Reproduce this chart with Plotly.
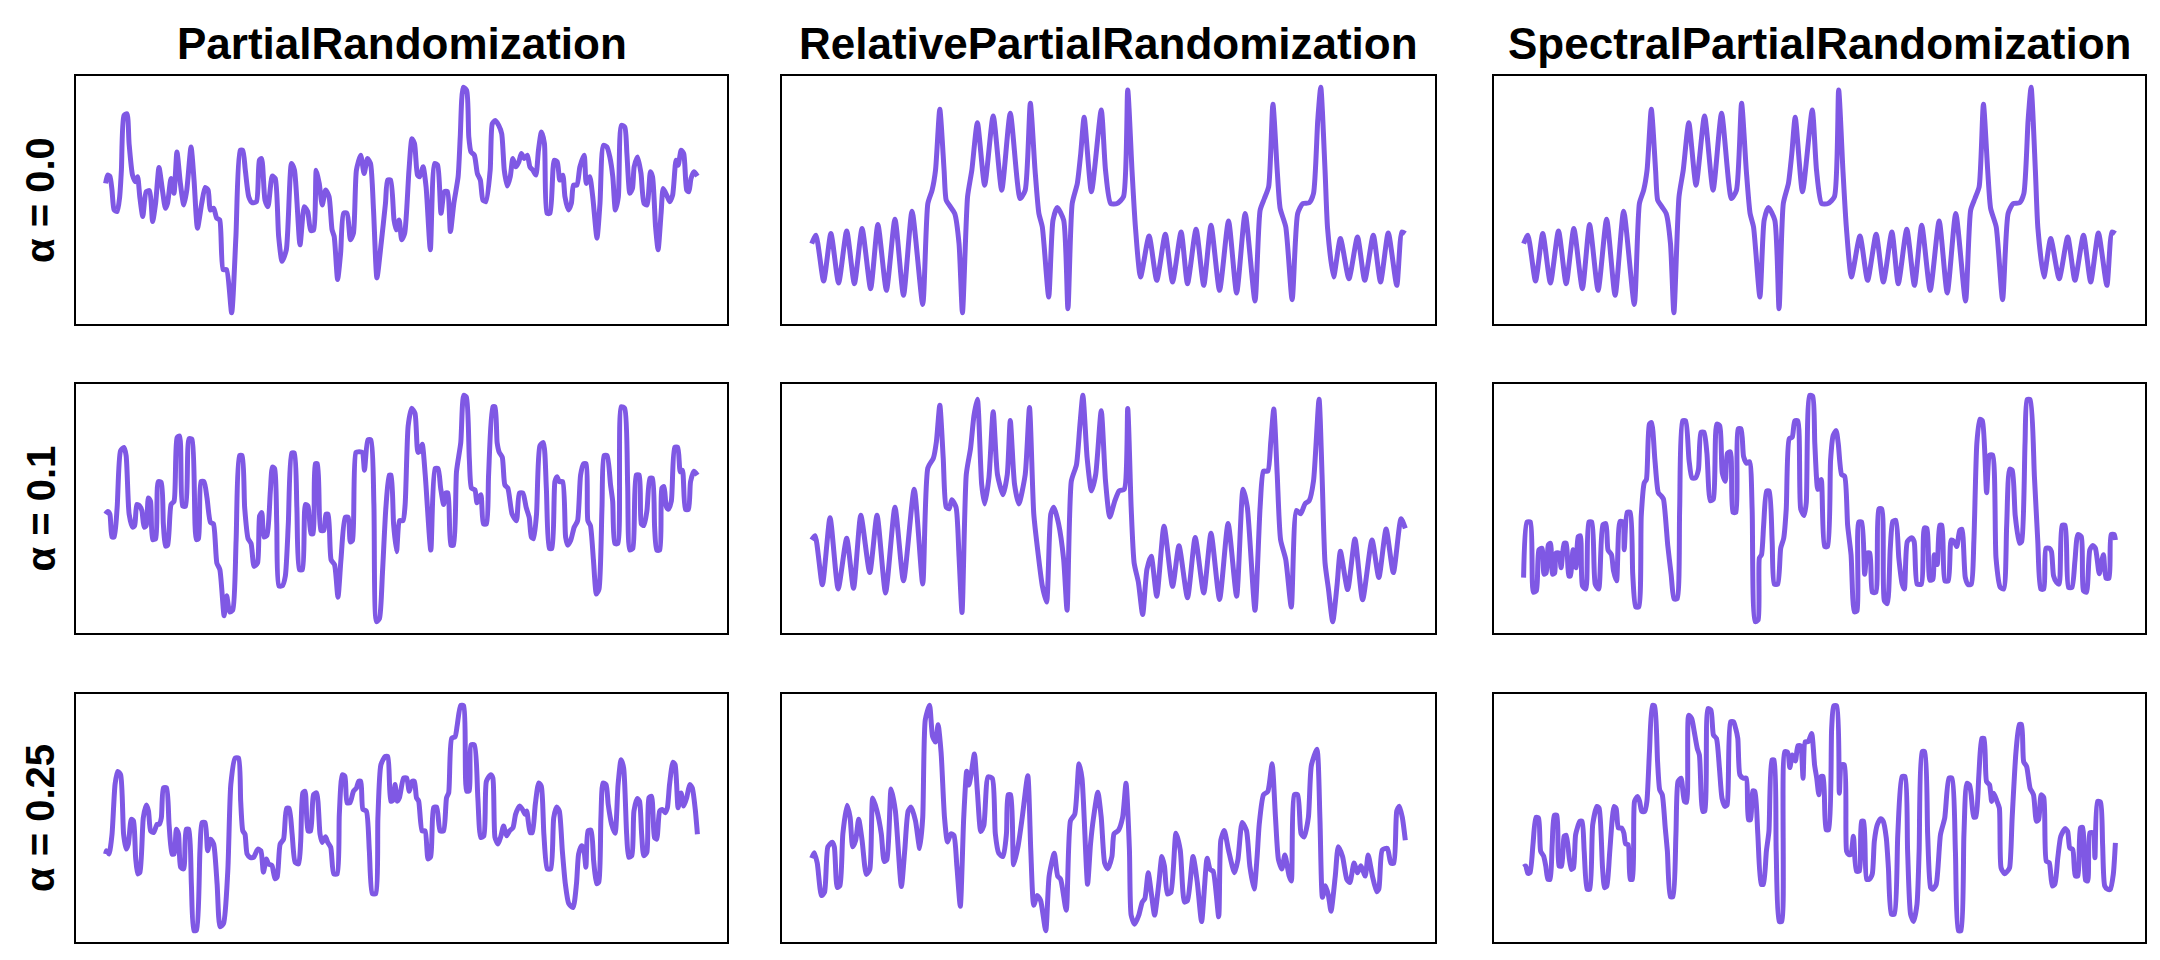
import plotly.graph_objects as go

# ---------------- data (time, value) ----------------
col_titles = ["PartialRandomization", "RelativePartialRandomization", "SpectralPartialRandomization"]
row_labels = ["α = 0.0", "α = 0.1", "α = 0.25"]

original = [(90,280),(100,305),(118,168),(135,310),(153,162),(172,318),(190,160),(208,325),(228,145),(245,337),
 (265,140),(285,353),(305,125),(325,377),(350,98),(362,400),(372,440),(380,500),(390,682),(400,500),(405,410),
 (415,390),(425,370),(435,280),(443,73),(455,420),(465,500),(478,642),(495,455),(515,662),(535,440),(555,670),
 (578,415),(590,440),(602,700),(613,500),(622,370),(630,330),(645,120),(655,350),(665,388),(680,350),(690,85),
 (700,400),(712,460),(720,550),(728,658),(745,435),(768,680),(778,500),(790,400),(805,400),(820,420),(830,740),
 (840,500),(848,330),(860,180),(880,303),(898,170),(918,308),(935,165),(955,315),(970,160),(990,323),(1008,155),
 (1025,335),(1045,140),(1066,348),(1085,132),(1105,370),(1128,108),(1140,380),(1150,415),(1160,450),(1170,697),
 (1180,500),(1187,385),(1200,330),(1215,112),(1228,370),(1240,400),(1255,402),(1265,430),(1275,650),(1282,748),
 (1292,500),(1298,325),(1312,180),(1328,295),(1348,175),(1368,300),(1385,170),(1405,305),(1422,165),(1440,312),
 (1460,155),(1472,315),(1480,310)]

partial_00 = [(85,460),(90,485),(95,482),(100,440),(105,380),(112,375),(118,420),(122,500),(128,665),(135,670),
 (140,580),(148,485),(155,465),(160,480),(165,420),(172,360),(180,435),(188,438),(195,345),(202,400),(210,508),
 (218,440),(225,385),(230,400),(238,475),(245,430),(252,555),(260,460),(268,395),(275,440),(285,570),(292,470),
 (300,325),(310,400),(318,448),(325,440),(330,380),(338,385),(345,355),(352,350),(360,200),(368,200),(380,70),
 (390,300),(400,560),(406,560),(412,500),(420,420),(428,402),(438,405),(445,530),(450,535),(458,410),(465,390),
 (475,482),(482,475),(490,300),(498,225),(508,260),(520,520),(527,500),(540,275),(550,390),(558,375),(565,318),
 (572,320),(578,500),(585,460),(592,395),(600,440),(608,420),(615,320),(620,300),(628,170),(635,250),(642,370),
 (650,370),(658,290),(665,310),(672,500),(682,545),(690,490),(698,535),(705,520),(712,380),(720,175),(730,280),
 (740,400),(745,470),(752,470),(760,350),(765,320),(772,350),(778,290),(785,310),(795,500),(802,595),(808,580),
 (815,485),(820,480),(828,510),(835,450),(845,260),(855,520),(862,515),(870,370),(878,435),(885,435),(892,315),
 (900,400),(910,480),(915,600),(922,750),(930,740),(935,600),(940,555),(948,545),(955,490),(962,470),(968,410),
 (975,405),(985,500),(990,640),(997,650),(1005,635),(1012,610),(1018,500),(1025,452),(1032,480),(1038,535),
 (1045,510),(1052,525),(1058,550),(1065,535),(1072,545),(1078,510),(1085,500),(1092,485),(1098,560),(1105,615),
 (1112,580),(1118,370),(1125,370),(1135,530),(1142,525),(1148,470),(1155,485),(1160,420),(1168,380),(1175,400),
 (1180,455),(1188,455),(1195,510),(1205,545),(1210,460),(1218,480),(1225,420),(1235,295),(1242,400),(1250,575),
 (1258,570),(1265,540),(1272,480),(1278,380),(1285,420),(1292,635),(1300,630),(1305,550),(1312,430),(1318,445),
 (1322,510),(1330,540),(1338,490),(1345,400),(1352,395),(1360,495),(1365,480),(1372,330),(1378,260),(1385,370),
 (1390,445),(1398,425),(1405,405),(1412,425),(1420,530),(1425,515),(1432,560),(1438,550),(1445,440),(1450,435),
 (1455,475),(1462,495),(1470,482)]

partial_01 = [(85,380),(90,388),(95,380),(100,310),(105,310),(112,400),(120,575),(128,585),(133,560),(140,380),
 (148,340),(153,345),(158,410),(165,405),(170,390),(175,340),(180,345),(185,430),(190,420),(195,302),(202,305),
 (208,480),(215,478),(220,350),(225,282),(230,285),(238,410),(245,420),(252,615),(258,620),(265,405),(272,405),
 (280,612),(287,610),(297,302),(302,305),(308,480),(315,480),(322,430),(330,355),(337,350),(345,230),(352,210),
 (362,68),(368,130),(375,80),(382,85),(390,300),(398,560),(404,560),(410,400),(418,305),(425,290),(432,220),
 (440,230),(445,375),(450,385),(455,310),(462,315),(470,450),(475,525),(480,520),(485,350),(490,160),(498,160),
 (505,190),(512,350),(520,568),(526,568),(532,400),(538,210),(545,210),(552,410),(558,405),(565,320),(570,320),
 (575,535),(580,535),(588,330),(595,330),(600,380),(605,380),(612,240),(620,225),(628,125),(635,240),(645,370),
 (652,370),(657,295),(662,300),(670,570),(678,572),(685,570),(690,515),(698,608),(705,608),(712,410),(718,50),
 (725,60),(732,200),(740,400),(748,500),(752,500),(758,350),(765,265),(772,360),(780,360),(785,410),(792,650),
 (800,705),(808,690),(815,570),(820,575),(825,595),(832,500),(845,270),(855,520),(862,520),(868,460),(875,410),
 (880,445),(885,445),(892,285),(898,285),(905,510),(915,600),(922,745),(928,740),(935,550),(940,460),(948,455),
 (953,415),(962,440),(968,350),(975,350),(980,500),(990,710),(995,710),(1000,600),(1005,570),(1012,555),
 (1018,470),(1025,460),(1035,380),(1045,360),(1052,445),(1060,445),(1068,400),(1075,370),(1080,310),(1085,305),
 (1092,380),(1100,590),(1108,600),(1115,460),(1122,275),(1128,275),(1135,480),(1140,495),(1145,480),(1153,480),
 (1160,310),(1165,285),(1172,300),(1180,340),(1188,360),(1195,500),(1202,535),(1208,535),(1212,360),(1218,345),
 (1225,240),(1232,135),(1238,150),(1245,400),(1250,560),(1257,560),(1265,470),(1270,420),(1275,290),(1282,290),
 (1290,710),(1298,705),(1305,470),(1310,270),(1317,275),(1325,500),(1332,500),(1337,350),(1343,345),(1350,390),
 (1357,490),(1363,490),(1368,340),(1373,270),(1380,270),(1385,460),(1390,465),(1395,405),(1400,395),(1407,420),
 (1415,585),(1422,585),(1428,510),(1433,515),(1440,395),(1447,395),(1452,480),(1460,512),(1468,500)]

partial_025 = [(90,290),(92,300),(98,290),(105,350),(112,500),(118,540),(125,530),(132,350),(138,305),(143,320),
 (150,395),(155,390),(160,280),(165,230),(170,235),(178,400),(185,438),(190,420),(195,360),(202,355),(210,380),
 (215,380),(220,400),(225,490),(232,490),(238,380),(245,290),(250,290),(255,365),(260,350),(265,250),(272,245),
 (278,365),(284,365),(290,200),(296,58),(302,60),(310,300),(315,385),(322,385),(328,300),(335,335),(342,320),
 (350,200),(357,70),(365,80),(375,240),(382,500),(392,580),(400,580),(405,450),(410,360),(415,350),(420,290),
 (427,280),(435,280),(445,305),(452,300),(458,235),(465,275),(470,260),(478,255),(485,215),(490,220),(497,320),
 (505,335),(512,428),(518,428),(525,350),(532,265),(540,260),(545,330),(550,475),(555,480),(562,360),(568,360),
 (575,470),(582,475),(590,350),(595,325),(603,342),(608,325),(615,310),(622,230),(630,230),(635,410),(642,530),
 (648,525),(653,445),(660,445),(668,480),(675,490),(680,510),(685,510),(690,425),(698,420),(705,300),(712,170),
 (720,170),(725,400),(732,560),(742,585),(748,585),(755,450),(760,452),(765,500),(770,450),(775,460),(785,520),
 (792,520),(798,480),(805,510),(810,510),(815,460),(820,450),(828,360),(835,360),(842,275),(848,282),(855,430),
 (862,432),(870,360),(878,360),(885,460),(890,475),(897,640),(905,645),(910,680),(918,740),(925,738),(932,480),
 (938,482),(942,620),(950,620),(958,460),(965,340),(972,345),(978,510),(988,530),(993,520),(998,340),(1005,320),
 (1012,345),(1018,375),(1025,345),(1032,360),(1040,370),(1046,410),(1055,435),(1062,425),(1068,410),(1072,420),
 (1080,355),(1085,355),(1092,440),(1100,505),(1106,495),(1112,350),(1120,245),(1128,245),(1135,400),(1142,432),
 (1148,420),(1155,300),(1162,200),(1170,140),(1180,128),(1188,200),(1193,290),(1200,315),(1205,305),(1210,250),
 (1215,360),(1222,362),(1228,270),(1235,200),(1240,205),(1245,400),(1250,505),(1257,500),(1262,440),(1270,380),
 (1278,353),(1285,500),(1292,575),(1298,550),(1305,350),(1310,280),(1317,285),(1322,420),(1330,458),(1335,450),
 (1340,350),(1345,285),(1352,295),(1357,460),(1363,465),(1370,340),(1375,335),(1382,420),(1388,425),(1395,415),
 (1400,430),(1405,500),(1413,568),(1418,560),(1425,430),(1432,475),(1438,435),(1445,460),(1452,500),(1458,490),
 (1465,425),(1470,350)]

relative_01 = [(90,300),(98,313),(115,163),(133,368),(152,150),(172,305),(188,152),(205,375),(226,200),(243,375),
 (263,138),(285,400),(305,175),(330,455),(350,165),(362,520),(375,550),(382,600),(390,712),(398,550),(405,400),
 (412,395),(418,423),(428,400),(435,250),(442,78),(452,500),(462,580),(470,680),(478,730),(488,470),(495,410),
 (505,490),(515,692),(525,500),(538,438),(548,500),(555,665),(565,470),(575,410),(590,500),(600,705),(610,380),
 (620,260),(630,160),(640,110),(650,380),(657,400),(668,350),(680,240),(688,85),(698,480),(710,530),(718,650),
 (725,742),(735,550),(745,450),(755,500),(768,695),(778,480),(788,370),(800,420),(810,450),(822,455),(830,702),
 (838,400),(845,230),(855,170),(865,72),(875,210),(885,250),(898,128),(915,342),(935,158),(950,282),(970,123),
 (988,307),(1008,138),(1025,320),(1045,118),(1065,350),(1085,128),(1100,455),(1110,400),(1128,85),(1140,400),
 (1148,510),(1158,510),(1165,600),(1172,700),(1180,500),(1188,300),(1200,240),(1213,95),(1225,390),(1235,380),
 (1245,410),(1255,420),(1265,480),(1278,730),(1285,500),(1292,230),(1300,150),(1310,50),(1320,160),(1328,265),
 (1345,148),(1362,303),(1380,117),(1402,300),(1418,185),(1435,333),(1452,200),(1470,365),(1480,335)]

relative_025 = [(92,275),(98,292),(105,260),(115,160),(122,170),(130,310),(140,324),(145,310),(152,185),(158,190),
 (165,350),(175,438),(182,400),(188,310),(195,330),(202,395),(210,330),(220,225),(228,240),(235,460),(245,420),
 (255,350),(262,265),(268,270),(278,488),(288,420),(302,188),(310,300),(318,420),(325,432),(335,390),(345,305),
 (352,400),(358,700),(368,745),(375,650),(382,632),(388,685),(395,600),(403,400),(410,325),(418,350),(425,345),
 (432,250),(440,127),(448,400),(455,542),(460,500),(465,530),(473,595),(480,480),(488,357),(495,375),(505,525),
 (515,520),(522,350),(530,290),(540,280),(548,350),(552,470),(558,470),(565,255),(575,310),(585,400),(598,528),
 (605,300),(612,130),(620,160),(628,145),(640,52),(648,220),(660,290),(668,220),(675,210),(688,115),(698,390),
 (708,410),(718,565),(725,520),(738,195),(745,320),(752,400),(762,478),(770,400),(778,260),(785,242),(795,280),
 (800,350),(810,360),(820,400),(828,505),(836,300),(840,100),(848,72),(858,100),(866,140),(872,150),(880,230),
 (888,160),(895,100),(905,200),(912,280),(918,250),(925,165),(933,170),(945,352),(955,300),(965,140),(972,145),
 (985,280),(995,200),(1005,80),(1018,275),(1025,240),(1032,235),(1045,95),(1050,330),(1058,360),(1068,300),
 (1082,230),(1090,270),(1100,385),(1110,360),(1118,250),(1128,180),(1135,280),(1140,380),(1150,470),(1160,480),
 (1170,565),(1178,400),(1185,270),(1193,242),(1200,285),(1210,220),(1215,205),(1222,470),(1230,470),(1238,350),
 (1245,340),(1255,400),(1262,560),(1275,610),(1282,400),(1288,155),(1295,190),(1302,160),(1308,112),(1318,220),
 (1325,310),(1335,280),(1345,210),(1352,200),(1362,260),(1370,230),(1378,252),(1388,220),(1395,285),(1405,220),
 (1415,172),(1420,180),(1428,300),(1440,305),(1448,260),(1455,260),(1462,420),(1468,435),(1475,400),(1482,330)]

spectral_01 = [(102,190),(110,360),(118,360),(125,145),(132,150),(138,275),(145,280),(150,200),(155,205),(160,290),
 (165,295),(170,200),(175,205),(178,265),(185,265),(190,220),(197,295),(202,295),(208,195),(212,195),(218,275),
 (225,220),(230,315),(235,318),(240,165),(248,155),(255,360),(262,360),(270,170),(278,155),(288,352),(295,355),
 (300,275),(308,260),(313,210),(320,180),(328,362),(335,360),(338,275),(345,390),(352,390),(358,200),(365,100),
 (372,100),(378,380),(385,480),(390,490),(397,660),(402,665),(410,550),(418,450),(425,440),(430,430),(440,290),
 (448,200),(455,125),(462,125),(468,400),(475,670),(482,670),(490,550),(497,495),(505,495),(512,520),(518,635),
 (525,635),(532,570),(540,425),(547,430),(555,660),(562,655),(568,510),(575,485),(580,570),(587,575),(593,390),
 (600,390),(605,645),(612,645),(618,560),(625,540),(632,545),(638,400),(645,55),(652,60),(655,250),(660,260),
 (665,350),(672,455),(678,455),(685,300),(690,170),(698,170),(705,280),(712,310),(718,400),(725,615),(732,620),
 (738,670),(745,670),(752,400),(760,380),(765,420),(773,748),(780,745),(785,600),(792,460),(800,490),(808,285),
 (815,285),(822,550),(828,625),(835,640),(840,600),(848,505),(855,500),(862,350),(870,260),(878,85),(884,88),
 (888,360),(895,360),(902,200),(908,265),(914,265),(920,145),(928,145),(935,400),(942,400),(948,120),(955,110),
 (962,280),(968,362),(975,365),(982,250),(990,170),(995,155),(1002,300),(1012,312),(1018,300),(1025,170),
 (1035,170),(1042,342),(1048,340),(1055,182),(1062,185),(1065,260),(1072,230),(1078,350),(1083,350),(1090,180),
 (1098,180),(1105,305),(1112,300),(1118,285),(1125,335),(1130,338),(1138,190),(1145,168),(1152,170),(1158,300),
 (1165,600),(1172,675),(1178,670),(1188,450),(1195,565),(1202,565),(1210,250),(1220,160),(1228,155),(1235,350),
 (1242,522),(1248,518),(1255,380),(1265,295),(1270,300),(1278,600),(1283,735),(1290,735),(1300,500),(1308,300),
 (1315,155),(1322,155),(1327,280),(1335,280),(1340,270),(1345,195),(1352,175),(1358,170),(1365,350),(1372,350),
 (1380,160),(1388,160),(1395,240),(1402,322),(1410,315),(1415,150),(1422,145),(1430,275),(1437,288),(1443,280),
 (1452,202),(1457,235),(1462,260),(1468,188),(1475,188),(1480,322),(1487,322),(1490,305)]

spectral_025 = [(103,252),(108,255),(113,233),(118,235),(125,320),(132,402),(138,400),(143,300),(150,285),(155,255),
 (160,215),(165,215),(170,320),(175,408),(181,408),(186,255),(192,255),(198,345),(203,348),(210,280),(215,245),
 (220,250),(225,350),(235,390),(240,390),(245,300),(252,185),(258,185),(265,380),(275,435),(280,430),(288,250),
 (293,190),(298,195),(305,300),(315,435),(320,428),(325,370),(332,370),(338,355),(342,322),(348,320),(353,215),
 (358,215),(363,450),(370,465),(375,450),(380,420),(387,420),(392,450),(398,600),(405,740),(410,738),(417,570),
 (422,485),(428,470),(435,370),(440,300),(447,163),(453,163),(460,350),(465,510),(472,520),(480,450),(485,448),
 (490,710),(497,700),(503,660),(510,610),(515,590),(523,420),(528,422),(535,730),(542,725),(548,650),(555,640),
 (562,550),(568,460),(575,435),(580,440),(588,690),(595,690),(600,670),(605,640),(610,530),(618,520),(625,520),
 (630,395),(635,395),(640,482),(645,480),(652,350),(660,200),(665,200),(672,300),(678,360),(685,575),(690,575),
 (695,300),(702,88),(708,88),(715,600),(722,598),(727,552),(733,590),(740,572),(746,618),(752,618),(758,520),
 (763,630),(770,630),(778,655),(785,560),(790,520),(795,470),(800,525),(805,525),(812,365),(818,365),(825,670),
 (830,738),(837,738),(843,475),(848,560),(855,560),(860,300),(865,290),(870,290),(876,345),(883,240),(890,240),
 (895,390),(900,390),(907,215),(913,215),(920,230),(925,330),(932,380),(940,398),(946,390),(953,340),(958,250),
 (965,110),(972,110),(980,350),(990,525),(997,525),(1003,300),(1010,110),(1017,88),(1025,140),(1030,300),
 (1037,600),(1043,600),(1050,350),(1057,190),(1062,185),(1070,200),(1080,350),(1090,400),(1100,520),(1107,520),
 (1115,300),(1122,60),(1128,60),(1135,350),(1142,505),(1148,500),(1152,470),(1158,403),(1163,403),(1170,530),
 (1177,640),(1182,640),(1188,510),(1195,500),(1200,450),(1205,475),(1212,452),(1218,430),(1222,250),(1230,232),
 (1237,240),(1242,250),(1248,400),(1257,600),(1265,682),(1270,682),(1275,570),(1282,555),(1290,490),(1298,470),
 (1305,390),(1310,395),(1316,470),(1322,462),(1328,270),(1335,265),(1342,195),(1348,200),(1355,280),(1362,345),
 (1372,368),(1378,360),(1383,310),(1390,305),(1396,225),(1402,225),(1408,370),(1413,372),(1420,212),(1425,210),
 (1430,355),(1438,355),(1442,280),(1448,450),(1455,448),(1460,320),(1465,195),(1472,185),(1478,185),(1485,230),
 (1490,325)]

# grid: rows = alpha, cols = method
grid = [
    [partial_00, original, original],
    [partial_01, relative_01, spectral_01],
    [partial_025, relative_025, spectral_025],
]

# ---------------- styling / layout ----------------
W, H = 2160, 960
LINE_COLOR = "#7f58e4"
FONT = "Liberation Sans, Arial, Helvetica, sans-serif"
col_px = [(76, 727), (782, 1435), (1494, 2145)]
row_px = [(76, 324), (384, 633), (694, 942)]

fig = go.Figure()
layout = dict(width=W, height=H, margin=dict(l=0, r=0, t=0, b=0),
              paper_bgcolor="white", plot_bgcolor="white", showlegend=False)
annotations = []

k = 0
for r in range(3):
    for c in range(3):
        k += 1
        data = grid[r][c]
        t = [p[0] for p in data]
        v = [p[1] for p in data]
        xa = "x" if k == 1 else f"x{k}"
        ya = "y" if k == 1 else f"y{k}"
        fig.add_trace(go.Scatter(x=t, y=v, mode="lines", xaxis=xa, yaxis=ya,
                                 line=dict(color=LINE_COLOR, width=5, shape="spline", smoothing=0.6),
                                 hoverinfo="skip"))
        tx0, tx1 = min(t), max(t)
        vy0, vy1 = min(v), max(v)
        px, py = 0.05 * (tx1 - tx0), 0.05 * (vy1 - vy0)
        x0, x1 = col_px[c]
        y0, y1 = row_px[r]
        axis_common = dict(showgrid=False, zeroline=False, showticklabels=False, ticks="",
                           showline=True, linecolor="black", linewidth=2.2, mirror=True)
        layout["xaxis" if k == 1 else f"xaxis{k}"] = dict(
            domain=[x0 / W, x1 / W], range=[tx0 - px, tx1 + px],
            anchor=ya, **axis_common)
        layout["yaxis" if k == 1 else f"yaxis{k}"] = dict(
            domain=[1 - y1 / H, 1 - y0 / H], range=[vy0 - py, vy1 + py],
            anchor=xa, **axis_common)

for c, title in enumerate(col_titles):
    cx = (col_px[c][0] + col_px[c][1]) / 2 / W
    annotations.append(dict(text=title, x=cx, y=1 - 43 / H, xref="paper", yref="paper",
                            xanchor="center", yanchor="middle", showarrow=False,
                            font=dict(family=FONT, size=44, color="black", weight="bold")))
for r, lab in enumerate(row_labels):
    cy = 1 - (row_px[r][0] + row_px[r][1]) / 2 / H
    annotations.append(dict(text=lab, x=40 / W, y=cy, xref="paper", yref="paper",
                            xanchor="center", yanchor="middle", showarrow=False, textangle=-90,
                            font=dict(family=FONT, size=40, color="black", weight="bold")))

layout["annotations"] = annotations
fig.update_layout(**layout)
fig.write_html("out.html", config={"displayModeBar": False},
               post_script="document.body.style.margin='0';")
